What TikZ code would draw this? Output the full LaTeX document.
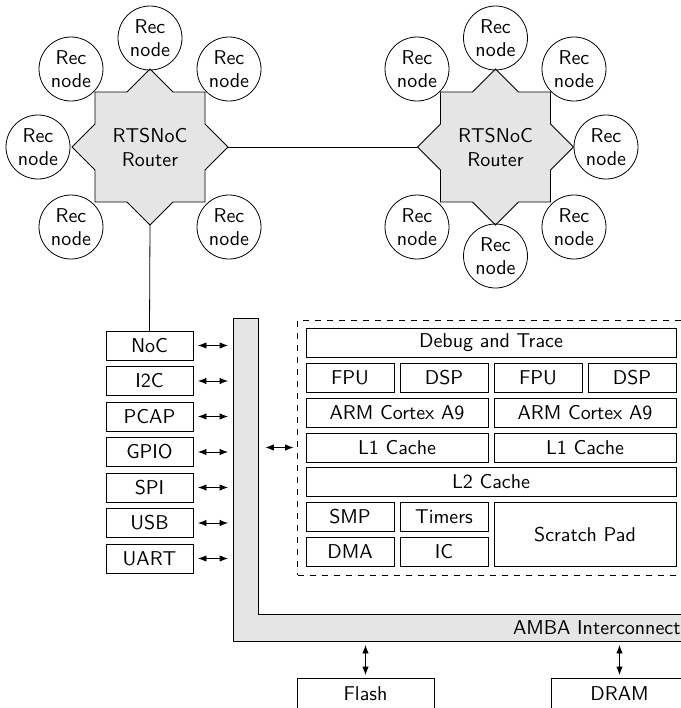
\documentclass[tikz,border=0pt]{standalone}
\usepackage{fontspec}
\usetikzlibrary{arrows.meta,calc}
\begin{document}
\begin{tikzpicture}[x=0.5pt,y=-0.5pt,
  font=\sffamily,
  every node/.style={inner sep=0pt, outer sep=0pt},
  routerfill/.style={draw, fill=gray!20},
  recnode/.style={draw, circle, minimum size=32pt, align=center, font=\sffamily\linespread{0.95}\selectfont},
  rlabel/.style={align=center},
  cell/.style={draw, minimum height=14.5pt},
  dbl/.style={{Latex[length=4.2pt,width=3.2pt]}-{Latex[length=4.2pt,width=3.2pt]}}
]
\useasboundingbox (0,0) rectangle (681,708);
\clip (0,0) rectangle (681,708);

% ---------- routers ----------
\foreach \nm/\cx in {L/150,R/495.5}{
  \begin{scope}[shift={(\cx,147)}]
    \draw[routerfill] (-55,-55) -- (-23,-55) -- (0,-78) -- (23,-55) -- (55,-55)
      -- (55,-23) -- (78,0) -- (55,23) -- (55,55) -- (23,55) -- (0,78)
      -- (-23,55) -- (-55,55) -- (-55,23) -- (-78,0) -- (-55,-23) -- cycle;
    \coordinate (\nm-e) at (78,0);
    \coordinate (\nm-w) at (-78,0);
    \coordinate (\nm-s) at (0,78);
  \end{scope}
}
\node[rlabel] (L) at (150,147) {RTSNoC\\Router};
\node[rlabel] (R) at (495.5,147) {RTSNoC\\Router};

% rec nodes left
\node[recnode] (L1) at (150,38) {Rec\\node};
\node[recnode] (L2) at (71,69) {Rec\\node};
\node[recnode] (L3) at (229,69) {Rec\\node};
\node[recnode] (L4) at (38,147) {Rec\\node};
\node[recnode] (L5) at (71,227) {Rec\\node};
\node[recnode] (L6) at (229,227) {Rec\\node};
% rec nodes right
\node[recnode] (R1) at (495.5,38) {Rec\\node};
\node[recnode] (R2) at (417,69) {Rec\\node};
\node[recnode] (R3) at (574,69) {Rec\\node};
\node[recnode] (R4) at (606,147) {Rec\\node};
\node[recnode] (R5) at (417,227) {Rec\\node};
\node[recnode] (R6) at (574,227) {Rec\\node};
\node[recnode] (R7) at (495.5,256) {Rec\\node};

\draw (L-e) -- (R-w);

% ---------- peripherals ----------
\node[cell, minimum width=43.5pt] (noc)  at (149.5,345.5) {NoC};
\node[cell, minimum width=43.5pt] (i2c)  at (149.5,381)   {I2C};
\node[cell, minimum width=43.5pt] (pcap) at (149.5,416.5) {PCAP};
\node[cell, minimum width=43.5pt] (gpio) at (149.5,452)   {GPIO};
\node[cell, minimum width=43.5pt] (spi)  at (149.5,487.5) {SPI};
\node[cell, minimum width=43.5pt] (usb)  at (149.5,523)   {USB};
\node[cell, minimum width=43.5pt] (uart) at (149.5,558.5) {UART};

\draw (L-s) -- (noc.north);

% ---------- AMBA interconnect ----------
\draw[routerfill] (233,318) -- (258.5,318) -- (258.5,614) -- (720,614) -- (720,641) -- (233,641) -- cycle;
\node[minimum width=12.75pt, minimum height=161.5pt] (vbar) at (245.75,479.5) {};
\node[minimum width=243.5pt, minimum height=13.5pt] (hbar) at (476.5,627.5) {};
\node[anchor=west] (amba) at (513,627.5) {AMBA Interconnect};

\foreach \p in {noc,i2c,pcap,gpio,spi,usb,uart}{
  \draw[dbl, shorten <=2.5pt, shorten >=2.5pt] (\p.east) -- (\p.east -| vbar.west);
}

% ---------- processor system ----------
\node[draw, dashed, minimum width=215pt, minimum height=127.5pt] (ps) at (512.5,447.5) {};
\draw[dbl, shorten <=3.5pt, shorten >=2pt] (vbar.east |- ps.west) -- (ps.west);

\node[cell, minimum width=185pt] (dbg) at (491,342.5) {Debug and Trace};
\node[cell, minimum width=44pt] (fpu1) at (350,377.5) {FPU};
\node[cell, minimum width=44pt] (dsp1) at (444,377.5) {DSP};
\node[cell, minimum width=44pt] (fpu2) at (538,377.5) {FPU};
\node[cell, minimum width=44pt] (dsp2) at (632,377.5) {DSP};
\node[cell, minimum width=91pt] (arm1) at (397,412.5) {ARM Cortex A9};
\node[cell, minimum width=91pt] (arm2) at (585,412.5) {ARM Cortex A9};
\node[cell, minimum width=91pt] (l11) at (397,447.5) {L1 Cache};
\node[cell, minimum width=91pt] (l12) at (585,447.5) {L1 Cache};
\node[cell, minimum width=185pt] (l2) at (491,482) {L2 Cache};
\node[cell, minimum width=44pt] (smp) at (350,517) {SMP};
\node[cell, minimum width=44pt] (tim) at (444,517) {Timers};
\node[cell, minimum width=44pt] (dma) at (350,552) {DMA};
\node[cell, minimum width=44pt] (ic)  at (444,552) {IC};
\node[draw, minimum width=91pt, minimum height=32pt] (sp) at (585,534.5) {Scratch Pad};

% ---------- memories ----------
\node[cell, minimum width=68.5pt, minimum height=16pt] (flash) at (365.5,694) {Flash};
\node[cell, minimum width=68.5pt, minimum height=16pt] (dram) at (619.5,694) {DRAM};
\draw[dbl, shorten <=2pt, shorten >=1.5pt] (flash.north |- hbar.south) -- (flash.north);
\draw[dbl, shorten <=2pt, shorten >=1.5pt] (dram.north |- hbar.south) -- (dram.north);
\end{tikzpicture}
\end{document}
